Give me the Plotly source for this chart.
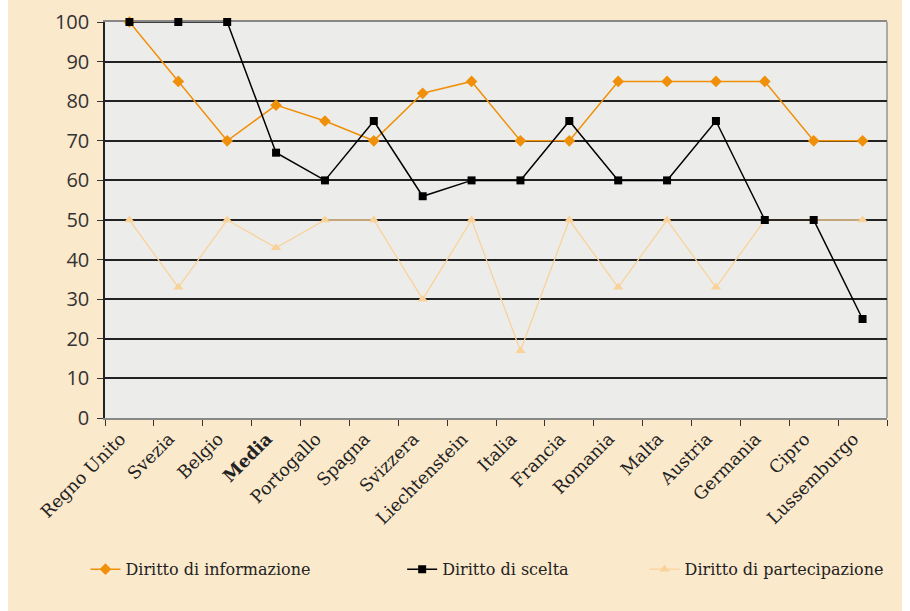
import plotly.graph_objects as go

categories = ["Regno Unito", "Svezia", "Belgio", "Media", "Portogallo", "Spagna", "Svizzera",
              "Liechtenstein", "Italia", "Francia", "Romania", "Malta", "Austria", "Germania",
              "Cipro", "Lussemburgo"]
tick_labels = [("<b>%s</b>" % c) if c == "Media" else c for c in categories]
informazione = [100, 85, 70, 79, 75, 70, 82, 85, 70, 70, 85, 85, 85, 85, 70, 70]
scelta = [100, 100, 100, 67, 60, 75, 56, 60, 60, 75, 60, 60, 75, 50, 50, 25]
partecipazione = [50, 33, 50, 43, 50, 50, 30, 50, 17, 50, 33, 50, 33, 50, 50, 50]
y_ticks = list(range(0, 101, 10))

ORANGE = "#F0900A"
LIGHT = "#F9D29A"
BLACK = "#000000"

fig = go.Figure()
fig.add_trace(go.Scatter(x=categories, y=partecipazione, name="Diritto di partecipazione",
                         mode="lines+markers", line=dict(color=LIGHT, width=1.3), cliponaxis=False,
                         marker=dict(symbol="triangle-up", size=9, color=LIGHT), legend="legend3"))
fig.add_trace(go.Scatter(x=categories, y=informazione, name="Diritto di informazione",
                         mode="lines+markers", line=dict(color=ORANGE, width=1.5), cliponaxis=False,
                         marker=dict(symbol="diamond", size=9, color=ORANGE), legend="legend"))
fig.add_trace(go.Scatter(x=categories, y=scelta, name="Diritto di scelta",
                         mode="lines+markers", line=dict(color=BLACK, width=1.5), cliponaxis=False,
                         marker=dict(symbol="square", size=8, color=BLACK), legend="legend2"))

leg_font = dict(family="DejaVu Serif", size=16, color="#222")
legend_common = dict(orientation="h", yref="paper", y=-0.382, yanchor="middle",
                     xanchor="left", bgcolor="rgba(0,0,0,0)", font=leg_font)

fig.update_layout(
    width=902, height=611,
    margin=dict(l=97, r=23, t=22, b=193, autoexpand=False),
    paper_bgcolor="#FBE9CC",
    plot_bgcolor="#ECEDEB",
    showlegend=True,
    legend=dict(x=-0.025, **legend_common),
    legend2=dict(x=0.38, **legend_common),
    legend3=dict(x=0.69, **legend_common),
    xaxis=dict(
        type="category", tickvals=categories, ticktext=tick_labels,
        tickangle=-45, tickson="boundaries", ticks="outside", ticklen=6,
        ticklabelshift=-9, ticklabelstandoff=2,
        tickcolor="#333", tickfont=dict(family="DejaVu Serif", size=17.5, color="#222"),
        showgrid=False, showline=True, linecolor="#888", linewidth=1.5, mirror=True,
        range=[-0.5, 15.5], automargin=False, layer="below traces",
    ),
    yaxis=dict(
        range=[0, 100], tickvals=y_ticks, ticks="outside", ticklen=6, tickcolor="#333",
        ticklabelstandoff=4,
        tickfont=dict(family="Open Sans", size=20, color="#333"),
        showgrid=True, gridcolor="#222", gridwidth=1.5,
        showline=True, linecolor="#222", linewidth=1.5, mirror=False,
        zeroline=False, automargin=False, layer="below traces",
    ),
)
fig.add_shape(type="line", xref="paper", yref="paper", x0=1, x1=1, y0=0, y1=1,
              line=dict(color="#AAA", width=2), layer="below")

fig.write_html("out.html", post_script="document.body.style.marginTop='0px';")
